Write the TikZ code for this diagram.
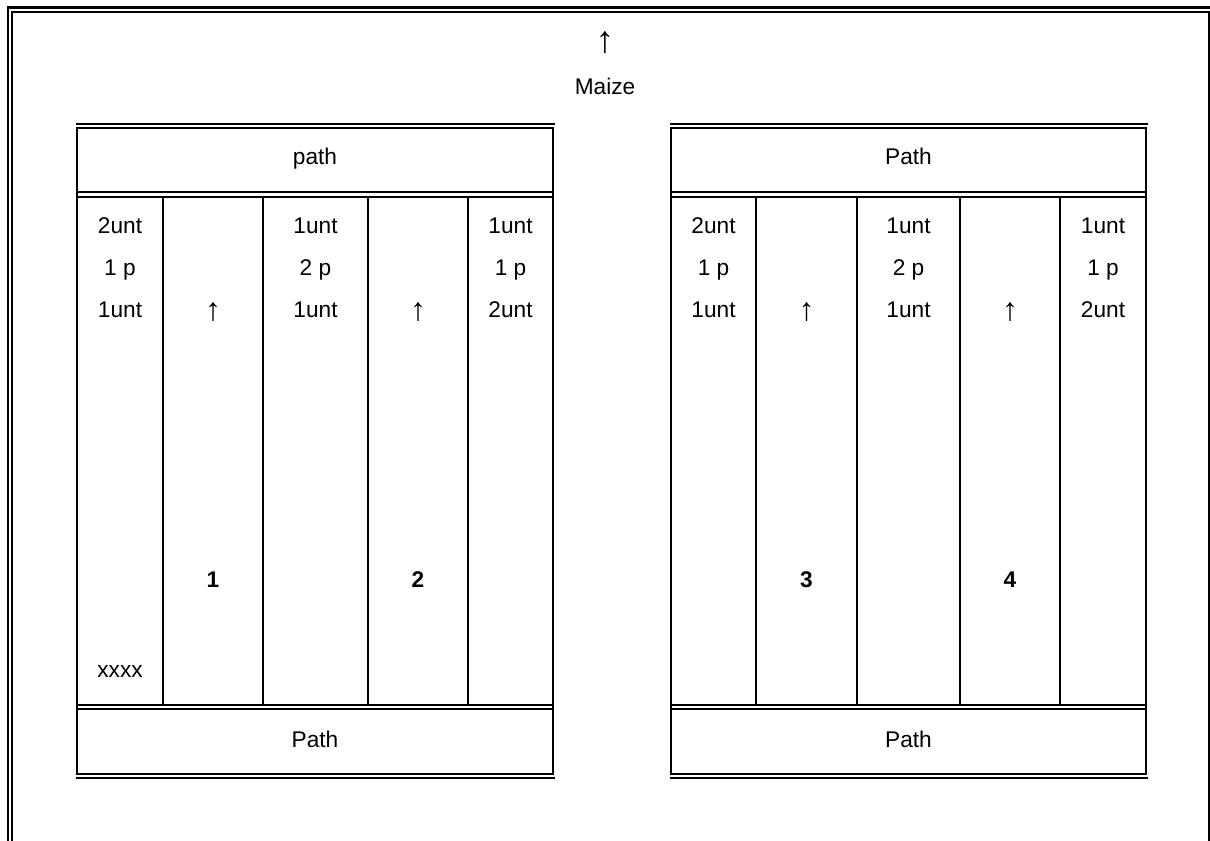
\documentclass[tikz,border=0pt]{standalone}
\usepackage{fontspec}
\setmainfont{Liberation Sans}
\newfontfamily\arrowfont{Liberation Serif}
\begin{document}
\begin{tikzpicture}[x=0.75pt,y=-0.75pt,line width=1.8pt,
  cell/.style={font=\fontsize{17}{20}\selectfont, inner sep=0pt, anchor=base},
  plotno/.style={cell, font=\fontsize{17}{20}\selectfont\bfseries},
  dirmark/.style={cell, font=\fontsize{24}{28}\selectfont\bfseries},
  divider/.style={line width=1.6pt}]
\useasboundingbox (0,0) rectangle (1210,841);

% page frame
\draw (7,7.5) -- (1210,7.5);
\draw (8,7) -- (8,841);
\draw (12,841) -- (12,12) -- (1209,12) -- (1209,841);

\node[cell, font=\fontsize{28}{30}\selectfont\arrowfont] (uparrow) at (605,53) {↑};
\node[cell] (maize) at (605,95) {Maize};

% the two plots
\foreach \l/\a/\b/\c/\d/\r/\na/\nb/\head [count=\i] in
  {77/163/263/368/468/553/1/2/path, 671/756/857/960/1060/1146/3/4/Path} {
  \draw (\l-1,124) -- (\r+2,124);
  \draw (\l,128) rectangle (\r,774);
  \draw (\l-1,778) -- (\r+2,778);
  \draw (\l,192) -- (\r,192);
  \draw (\l,197) -- (\r,197);
  \draw (\l,705) -- (\r,705);
  \draw (\l,709) -- (\r,709);
  \foreach \x in {\a,\b,\c,\d}
    \draw[divider] (\x,197) -- (\x,705);

  \node[cell] (head\i) at ({(\l+\r)/2},165) {\head};
  \node[cell] (foot\i) at ({(\l+\r)/2},747) {Path};

  \node[cell] (cola\i) at ({(\l+\a)/2},234) {2unt};
  \node[cell] (colb\i) at ({(\l+\a)/2},276) {1 p};
  \node[cell] (colc\i) at ({(\l+\a)/2},318) {1unt};
  \node[cell] (cold\i) at ({(\b+\c)/2},234) {1unt};
  \node[cell] (cole\i) at ({(\b+\c)/2},276) {2 p};
  \node[cell] (colf\i) at ({(\b+\c)/2},318) {1unt};
  \node[cell] (colg\i) at ({(\d+\r)/2},234) {1unt};
  \node[cell] (colh\i) at ({(\d+\r)/2},276) {1 p};
  \node[cell] (coli\i) at ({(\d+\r)/2},318) {2unt};

  \node[dirmark] (dira\i) at ({(\a+\b)/2},321) {↑};
  \node[dirmark] (dirb\i) at ({(\c+\d)/2},321) {↑};
  \node[plotno] (numa\i) at ({(\a+\b)/2},587) {\na};
  \node[plotno] (numb\i) at ({(\c+\d)/2},587) {\nb};
}
\node[cell] (border) at (120,677) {xxxx};
\end{tikzpicture}
\end{document}
